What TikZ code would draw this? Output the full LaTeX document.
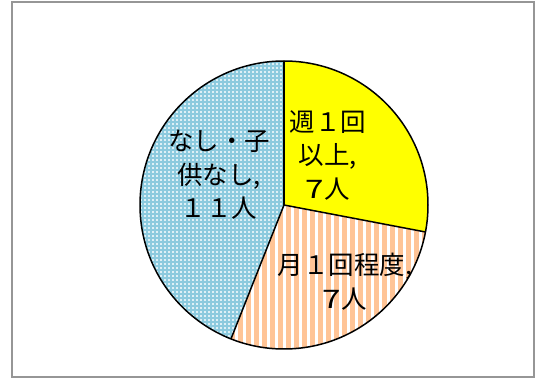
\documentclass[tikz,border=0pt]{standalone}
\usepackage{fontspec}
\usepackage{graphicx}
\newfontfamily\cjk{Noto Sans CJK JP}
\newcommand{\wideseven}{\scalebox{1.3}[1]{7}\hspace{1pt}}
\definecolor{frameg}{RGB}{150,150,150}
\definecolor{pieyellow}{RGB}{255,255,0}
\definecolor{pieorange}{RGB}{255,196,150}
\definecolor{pieblue}{RGB}{140,202,222}
\definecolor{bluedot}{RGB}{222,240,246}
\tikzset{
  slice/.style={draw=black, line width=1.5pt, line join=round},
  lbl/.style={font=\cjk\fontsize{25.5}{33.5}\selectfont, align=center, inner sep=0pt, text=black}
}
\begin{document}
\begin{tikzpicture}[x=1pt,y=1pt]
\useasboundingbox (0,0) rectangle (539,378);
\fill[white] (0,0) rectangle (539,378);
\draw[frameg, line width=1.8pt] (12,0.9) rectangle (534.3,376.2);
\coordinate (c) at (284,173);
% yellow slice
\fill[pieyellow] (c) -- ++(90:144) arc[start angle=90, end angle=-10.8, radius=144] -- cycle;
% orange striped slice
\begin{scope}
  \clip (c) -- ++(-10.8:144) arc[start angle=-10.8, end angle=-111.6, radius=144] -- cycle;
  \fill[white] (220,20) rectangle (440,180);
  \foreach \i in {0,...,28} {
    \fill[pieorange] (222+8*\i,20) rectangle (227+8*\i,180);
  }
\end{scope}
% blue dotted slice
\begin{scope}
  \clip (c) -- ++(-111.6:144) arc[start angle=-111.6, end angle=-270, radius=144] -- cycle;
  \fill[pieblue] (136,25) rectangle (290,320);
  \foreach \i in {0,...,38} {
    \foreach \j in {0,...,74} {
      \fill[bluedot] (136+4*\i,25+4*\j) rectangle ++(2,2);
    }
  }
\end{scope}
% outlines
\draw[slice] (c) circle[radius=144];
\draw[slice] (c) -- ++(90:144);
\draw[slice] (c) -- ++(-10.8:144);
\draw[slice] (c) -- ++(-111.6:144);
% labels
\node[lbl] (ly) at (328,223) {週１回\\以上,\\\wideseven 人};
\node[lbl] (lo) at (345,96.5) {月１回程度,\\\wideseven 人};
\node[lbl] (lb) at (219,203) {なし・子\\供なし,\\１１人};
\end{tikzpicture}
\end{document}
